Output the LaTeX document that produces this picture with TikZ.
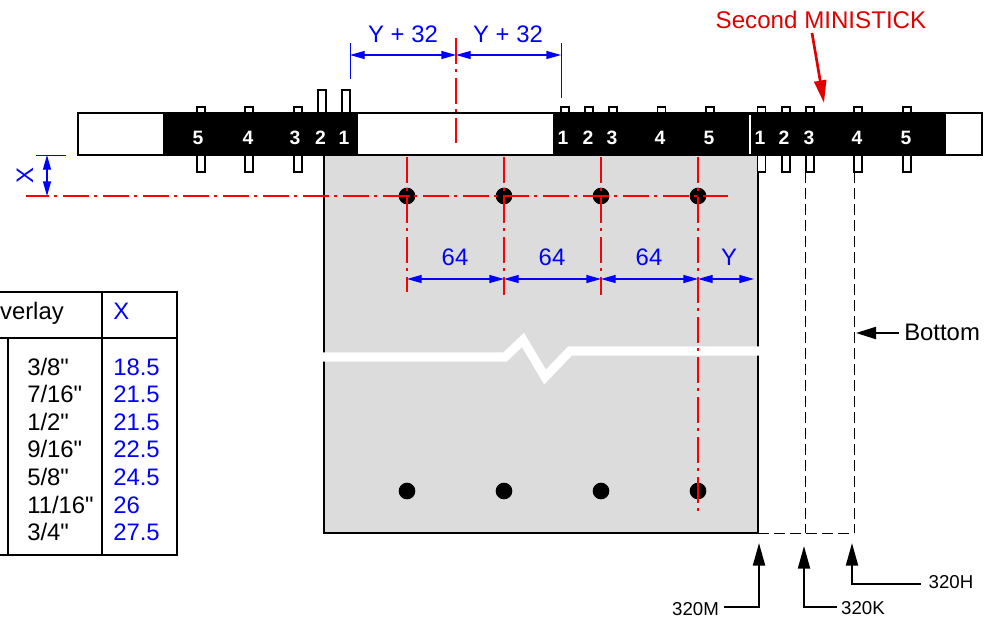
\documentclass[tikz,border=0pt]{standalone}
\usepackage{fontspec}
\setmainfont{Liberation Sans}[Ligatures=TeXOff]
\usepackage{xcolor}
\usetikzlibrary{arrows.meta}
\definecolor{plategray}{HTML}{DCDCDC}
\definecolor{notered}{HTML}{E00000}
\tikzset{
    label/.style={font=\fontsize{17.9}{20}\selectfont, inner sep=0pt},
    smalllabel/.style={font=\fontsize{14}{16}\selectfont, inner sep=0pt, anchor=base},
    pinnum/.style={font=\fontsize{14.5}{16}\selectfont\bfseries, text=white, inner sep=0pt, anchor=base},
    dimlabel/.style={label, text=blue, anchor=base},
    rowtext/.style={label, anchor=base west},
    pin/.style={draw=black, fill=white, line width=1.1pt},
    center line/.style={draw=red, line width=0.85pt, dash pattern=on 19.5pt off 4.1pt on 2.2pt off 4.2pt},
    dimline/.style={draw=blue, line width=0.75pt},
    dimarrow/.style={dimline, line width=1pt, {Triangle[length=11pt,width=6pt]}-{Triangle[length=11pt,width=6pt]}},
    callout/.style={line width=1.6pt, -{Triangle[length=17pt,width=9pt]}},
    hidden/.style={draw=black, line width=0.75pt, dash pattern=on 8.5pt off 3.5pt},
    hole/.style={circle, fill=black, inner sep=0pt, minimum size=12.5pt},
}
\begin{document}
\begin{tikzpicture}[x=0.75pt, y=-0.75pt]
    \useasboundingbox (0,0) rectangle (998,621);

    % Overlay table
    \draw[line width=1.5pt] (0,292) -- (177,292) -- (177,555) -- (0,555);
    \draw[line width=1.5pt] (0,338) -- (177,338);
    \draw[line width=1.5pt] (102,292) -- (102,555);
    \draw[line width=1.5pt] (8,338) -- (8,555);
    \node[label, anchor=base east] (headOverlay) at (64,319) {verlay};
    \node[dimlabel, anchor=base west] (headX) at (113,319) {X};
    \foreach \row/\overlay/\xval [count=\i from 0] in {a/{3/8"}/18.5, b/{7/16"}/21.5, c/{1/2"}/21.5, d/{9/16"}/22.5, e/{5/8"}/24.5, f/{11/16"}/26, g/{3/4"}/27.5} {
        \node[rowtext] (over\row) at (27,375+27.6*\i) {\overlay};
        \node[dimlabel, anchor=base west] (val\row) at (113,375+27.6*\i) {\xval};
    }

    % Plate
    \draw[fill=plategray, line width=1.5pt] (324,155) rectangle (758,533);

    % Break line
    \draw[white, line width=6.8pt, miter limit=10] (322,357) -- (505,357) -- (523,340) -- (545,377) -- (570,351) -- (760,351);

    % Hidden hinge edges
    \draw[hidden] (805.6,172) -- (805.6,533);
    \draw[hidden] (854,172) -- (854,533);
    \draw[hidden] (758,533) -- (854,533);

    % Pins
    \foreach \px in {201,249,298,565,589,613,661.5,710,761.5,786,810,858,907}
        \draw[pin] (\px-4,107) rectangle (\px+4,114);
    \foreach \px in {322,346}
        \draw[pin] (\px-4,90) rectangle (\px+4,114);
    \foreach \px in {201,249,298,761.5,786,810,858,907}
        \draw[pin] (\px-4,154) rectangle (\px+4,172);

    % Mounting bar
    \draw[fill=white, line width=1.1pt] (78,113) rectangle (982,155);
    \fill[black] (163,112.5) rectangle (358,155.5);
    \fill[black] (553,112.5) rectangle (946,155.5);
    \draw[white, line width=1.2pt] (750,115) -- (750,154);

    % Pin numbers
    \foreach \px/\n in {198/5,248/4,295/3,320.5/2,344/1,563/1,588/2,612/3,660/4,709/5,760/1,784/2,809/3,857/4,906/5}
        \node[pinnum] (num\px) at (\px,144) {\n};

    % Holes
    \foreach \hx in {407,504,601,698} {
        \node[hole] (top\hx) at (\hx,196) {};
        \node[hole] (low\hx) at (\hx,491) {};
    }

    % Centre lines
    \draw[center line, dash phase=2.25pt] (26,196) -- (728,196);
    \draw[center line] (456,38) -- (456,143);
    \draw[center line] (407,157) -- (407,292);
    \draw[center line] (504,157) -- (504,295);
    \draw[center line] (601,157) -- (601,295);
    \draw[center line] (698,157) -- (698,514);

    % Top dimensions
    \coordinate (dimA) at (350,55);
    \coordinate (dimB) at (456,55);
    \coordinate (dimC) at (561,55);
    \draw[dimline] (350,43) -- (350,79);
    \draw[dimline] (561,43) -- (561,98);
    \draw[dimarrow] (dimA) -- (dimB);
    \draw[dimarrow] (dimB) -- (dimC);
    \node[dimlabel] (dimAB) at (403,42) {Y + 32};
    \node[dimlabel] (dimBC) at (508,42) {Y + 32};

    % X dimension
    \coordinate (xTop) at (47,155);
    \coordinate (xLow) at (47,196);
    \draw[dimline] (36,155) -- (66,155);
    \draw[dimarrow] (xTop) -- (xLow);
    \node[label, text=blue, rotate=90] (xLabel) at (25,176) {X};

    % Hole spacing
    \foreach \from/\to/\lab/\lx in {407/504/64/455, 504/601/64/552, 601/698/64/649, 698/754/Y/729} {
        \coordinate (sp\from) at (\from,279);
        \coordinate (sq\from) at (\to,279);
        \draw[dimarrow] (sp\from) -- (sq\from);
        \node[dimlabel] (lab\from) at (\lx,265) {\lab};
    }

    % Second ministick note
    \node[label, font=\fontsize{18.1}{20}\selectfont, text=notered, anchor=base] (second) at (821,28) {Second MINISTICK};
    \coordinate (secondTail) at (812,33);
    \coordinate (secondTip) at (824,103);
    \draw[notered, line width=2pt, -{Triangle[length=17pt,width=9pt]}] (secondTail) -- (secondTip);

    % Bottom callout
    \node[label, anchor=base west] (bottom) at (904,340) {Bottom};
    \coordinate (bottomTail) at (899,333);
    \coordinate (bottomTip) at (856,333);
    \draw[line width=1.6pt, -{Triangle[length=15pt,width=9pt]}] (bottomTail) -- (bottomTip);

    % Model callouts
    \node[smalllabel] (modelM) at (695.5,615) {320M};
    \node[smalllabel] (modelK) at (863,614) {320K};
    \node[smalllabel] (modelH) at (951,588) {320H};
    \coordinate (tipM) at (759,543);
    \coordinate (tipK) at (804,546);
    \coordinate (tipH) at (852,543);
    \draw[callout] (724,607) -| (tipM);
    \draw[callout] (837,607) -| (tipK);
    \draw[callout] (921,584) -| (tipH);
\end{tikzpicture}
\end{document}
